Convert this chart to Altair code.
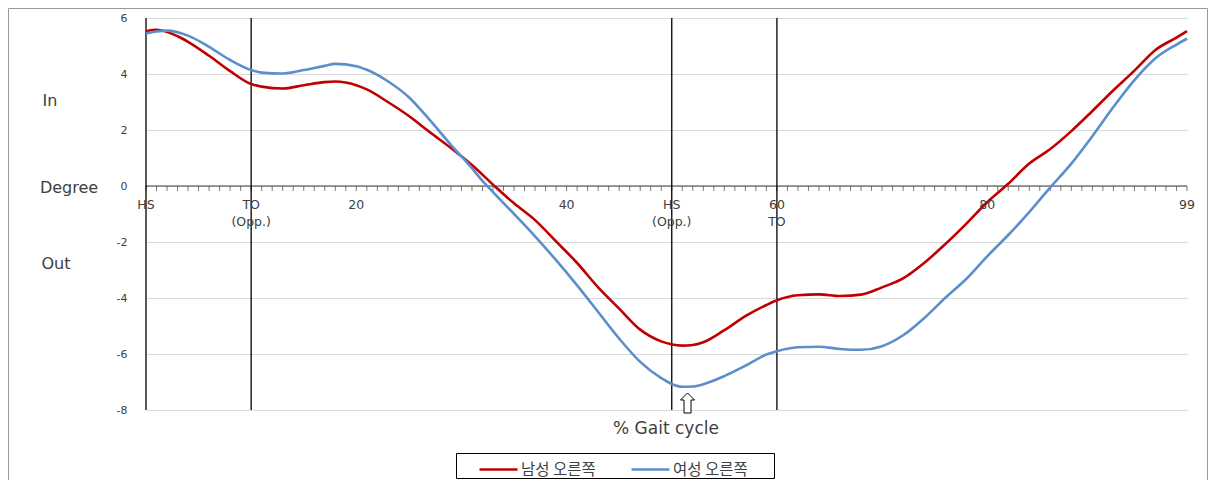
import altair as alt
import pandas as pd

# ---- data ----
red_x = [0, 1, 3, 4, 6, 8, 10, 11, 13, 15, 17, 18, 20, 21, 23, 25, 27, 29, 31, 33,
         35, 37, 39, 41, 43, 45, 47, 49, 51, 52, 53, 55, 57, 59, 60, 62, 64, 66, 68,
         70, 72, 74, 76, 78, 80, 82, 84, 86, 88, 90, 92, 94, 96, 98, 99]
red_y = [5.53, 5.58, 5.35, 5.15, 4.65, 4.10, 3.64, 3.55, 3.48, 3.60, 3.71, 3.73, 3.60,
         3.45, 3.00, 2.50, 1.92, 1.36, 0.75, 0.05, -0.62, -1.22, -1.98, -2.75, -3.62,
         -4.38, -5.13, -5.55, -5.70, -5.68, -5.58, -5.15, -4.65, -4.25, -4.08, -3.90,
         -3.87, -3.93, -3.88, -3.62, -3.30, -2.75, -2.08, -1.35, -0.58, 0.08, 0.80,
         1.32, 1.96, 2.68, 3.42, 4.12, 4.86, 5.30, 5.53]

blue_x = [0, 1, 2, 4, 6, 8, 10, 11, 13, 15, 17, 18, 20, 21, 23, 25, 27, 29, 31, 32, 33,
          35, 37, 39, 41, 43, 45, 47, 49, 50, 51, 52, 53, 55, 57, 59, 60, 62, 64, 66,
          68, 70, 72, 74, 76, 78, 80, 82, 84, 86, 88, 90, 92, 94, 96, 98, 99]
blue_y = [5.45, 5.52, 5.55, 5.37, 4.97, 4.50, 4.14, 4.05, 4.02, 4.14, 4.29, 4.36, 4.28,
          4.15, 3.74, 3.17, 2.35, 1.47, 0.64, 0.18, -0.22, -1.00, -1.80, -2.65, -3.55,
          -4.50, -5.45, -6.28, -6.86, -7.07, -7.17, -7.16, -7.08, -6.79, -6.42, -6.02,
          -5.90, -5.76, -5.74, -5.82, -5.85, -5.72, -5.33, -4.72, -4.00, -3.32, -2.51,
          -1.75, -0.93, -0.05, 0.80, 1.78, 2.82, 3.78, 4.56, 5.05, 5.26]

series_names = ["남성 오른쪽", "여성 오른쪽"]
series_colors = ["#C00000", "#5B8FCC"]

event_x = [0, 10, 50, 60]
xlabel_pos = [0, 10, 20, 40, 50, 60, 80, 99]
xlabel_text = ["HS", "TO\n(Opp.)", "20", "40", "HS\n(Opp.)", "60\nTO", "80", "99"]
minor_ticks = list(range(0, 100))
y_ticks = [-8, -6, -4, -2, 0, 2, 4, 6]
arrow_x = [51.5]

FONT = "DejaVu Sans"
KFONT = "Noto Sans CJK KR"
TXT = "#404040"

lines_df = pd.concat([
    pd.DataFrame({"x": red_x, "v": red_y, "series": series_names[0]}),
    pd.DataFrame({"x": blue_x, "v": blue_y, "series": series_names[1]}),
])
events_df = pd.DataFrame({"x": event_x})
xlab_df = pd.DataFrame({"x": xlabel_pos, "label": xlabel_text})
ticks_df = pd.DataFrame({"x": minor_ticks})
one_df = pd.DataFrame({"x": arrow_x})

W, H = 1041, 392
xs = alt.Scale(domain=[0, 99], nice=False, zero=False)
ys = alt.Scale(domain=[-8, 6], nice=False, zero=False)
YAX = alt.Axis(values=y_ticks, grid=True, gridColor="#D9D9D9", gridWidth=1,
               domain=False, ticks=False, labelPadding=19, labelFontSize=11,
               labelColor=TXT, labelFont=FONT, title=None,
               labelExpr="toString(datum.value)")


def Y(field=None, datum=None):
    if datum is not None:
        return alt.Y(datum=datum, scale=ys, axis=YAX, title=None)
    return alt.Y(field, scale=ys, axis=YAX, title=None)


X = lambda: alt.X("x:Q", scale=xs, axis=None)

grid = alt.Chart(lines_df).mark_line(opacity=0).encode(x=X(), y=Y("v:Q"))

vlines = alt.Chart(events_df).mark_rule(color="#000000", strokeWidth=1.3).encode(x=X())

zero_line = alt.Chart(one_df).mark_rule(color="#404040", strokeWidth=1.2).encode(
    y=Y(datum=0)
)

tick_marks = alt.Chart(ticks_df).mark_tick(
    orient="vertical", size=5, thickness=1, yOffset=2.5, color="#404040"
).encode(x=X(), y=Y(datum=0))

xlabels = alt.Chart(xlab_df).mark_text(
    baseline="top", dy=13, fontSize=12.5, lineBreak="\n", lineHeight=17,
    color=TXT, font=FONT
).encode(x=X(), y=Y(datum=0), text="label:N")

curves = alt.Chart(lines_df).mark_line(strokeWidth=2.6, interpolate="monotone").encode(
    x=X(),
    y=Y("v:Q"),
    color=alt.Color("series:N", scale=alt.Scale(domain=series_names, range=series_colors),
                    legend=alt.Legend(
                        title=None, orient="none", legendX=332, legendY=431,
                        direction="horizontal", symbolType="stroke",
                        symbolStrokeWidth=2.6, symbolSize=1444, labelOffset=2,
                        columnPadding=30, labelFontSize=15.5, labelFont=KFONT,
                        labelColor=TXT, padding=0)),
    detail="series:N",
)

arrow = alt.Chart(one_df).mark_point(
    shape="M0,-1 L0.7,-0.3 L0.35,-0.3 L0.35,1 L-0.35,1 L-0.35,-0.3 L-0.7,-0.3 Z",
    size=400, filled=True, fill="white", stroke="#000000", strokeWidth=1, opacity=1
).encode(x=X(), y=alt.value(385))


def label(txt, px, py, size, align="center"):
    return alt.Chart(one_df).mark_text(
        text=txt, fontSize=size, font=FONT, color=TXT, align=align, baseline="middle"
    ).encode(x=alt.value(px), y=alt.value(py))


side_in = label("In", -96, 83, 16)
side_deg = label("Degree", -77, 170, 16)
side_out = label("Out", -90, 246, 16)
xtitle = label("% Gait cycle", 520, 411, 17)

legend_box = alt.Chart(one_df).mark_rect(
    fill=None, stroke="#000000", strokeWidth=1
).encode(x=alt.value(310.5), x2=alt.value(628.5), y=alt.value(435.5), y2=alt.value(460.5))

frame = alt.Chart(one_df).mark_rect(
    fill=None, stroke="#9A9A9A", strokeWidth=1
).encode(x=alt.value(-137.5), x2=alt.value(1061.5), y=alt.value(-9.5), y2=alt.value(490))

chart = alt.layer(
    grid, frame, zero_line, tick_marks, vlines, curves, xlabels, arrow,
    side_in, side_deg, side_out, xtitle, legend_box
).properties(
    width=W, height=H,
    padding={"left": 138, "top": 10, "right": 21, "bottom": 70},
    autosize=alt.AutoSizeParams(type="none"),
).configure_view(stroke=None)

chart.save("out.html", embed_options={"renderer": "svg", "actions": False})
